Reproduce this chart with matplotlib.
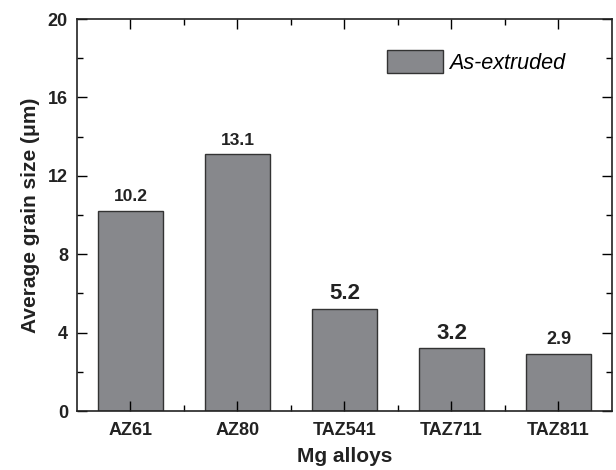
import matplotlib.pyplot as plt
import numpy as np

plt.rcParams['font.family'] = ['Liberation Sans', 'DejaVu Sans']

alloys = ['AZ61', 'AZ80', 'TAZ541', 'TAZ711', 'TAZ811']
grain_size = [10.2, 13.1, 5.2, 3.2, 2.9]
value_text = ['10.2', '13.1', '5.2', '3.2', '2.9']
value_fontsize = [12.5, 12.5, 16, 16, 13]

fig = plt.figure(figsize=(6.16, 4.70), dpi=100)
ax = fig.add_axes([0.125, 0.1255, 0.8685, 0.834])

x = np.arange(len(alloys))
ax.bar(x, grain_size, width=0.6, color='#87888c', edgecolor='#333333',
       linewidth=1.0, label='As-extruded')

for xi, v, t, fs in zip(x, grain_size, value_text, value_fontsize):
    ax.annotate(t, (xi, v), xytext=(0, 7), textcoords='offset points',
                ha='center', va='baseline', fontsize=fs, fontweight='bold',
                color='#222222')

ax.set_xlim(-0.5, 4.5)
ax.set_ylim(0, 20)
ax.set_xticks(x)
ax.set_xticklabels(alloys)
ax.set_xticks(x[:-1] + 0.5, minor=True)
ax.set_yticks(np.arange(0, 21, 4))
ax.set_yticks(np.arange(2, 20, 4), minor=True)

ax.tick_params(which='both', direction='in', top=True, right=True,
               labelsize=13, width=1.0, labelcolor='#222222')
ax.tick_params(which='major', length=7)
ax.tick_params(which='minor', length=4)
for lab in ax.get_xticklabels() + ax.get_yticklabels():
    lab.set_fontweight('bold')
ax.tick_params(axis='x', pad=8)
ax.tick_params(axis='y', pad=6.5)

for s in ax.spines.values():
    s.set_linewidth(1.2)
    s.set_color('#222222')

ax.set_xlabel('Mg alloys', fontsize=15, fontweight='bold', labelpad=6,
              color='#222222')
ax.set_ylabel('Average grain size (\u03bcm)', fontsize=15, fontweight='bold',
              labelpad=6, color='#222222')

leg = ax.legend(loc='upper left', bbox_to_anchor=(0.5794, 0.921), frameon=False,
                prop={'style': 'italic', 'size': 15.5}, handlelength=2.6,
                handleheight=1.25, handletextpad=0.3, borderpad=0,
                borderaxespad=0)

fig.savefig('out.png', dpi=100)
